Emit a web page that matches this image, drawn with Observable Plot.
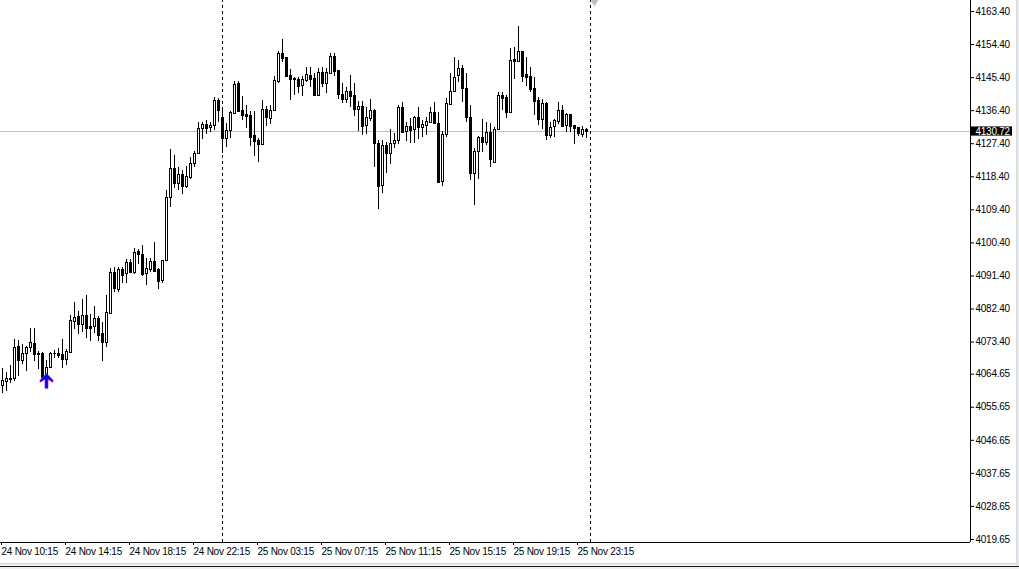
<!DOCTYPE html>
<html><head><meta charset="utf-8">
<script src="https://cdn.jsdelivr.net/npm/d3@7"></script>
<script src="https://cdn.jsdelivr.net/npm/@observablehq/plot@0.6"></script>
<style>
html,body{margin:0;padding:0;background:#fff;overflow:hidden}
#chart svg{display:block}
#chart{position:relative}
#foot{height:2px;background:#f0f0f0;border-top:1px solid #d4d4d4;border-bottom:1px solid #202020}
#foot2{height:2px;background:#f0f0f0}
#side{position:absolute;right:0;top:0;width:2px;height:566px;background:#e4e8ee;border-left:1px solid #d8d8d8}
</style></head><body><div id="chart"></div><div id="foot"></div><div id="foot2"></div><div id="side"></div>
<script>
const highs=[4066.2,4065.1,4067.0,4074.1,4073.8,4072.7,4072.2,4077.1,4077.1,4070.8,4070.6,4068.4,4070.6,4071.1,4071.6,4074.1,4071.4,4080.6,4084.2,4081.7,4085.0,4086.1,4080.9,4083.1,4080.4,4078.7,4086.1,4093.4,4093.7,4093.7,4093.7,4095.9,4095.9,4098.9,4098.6,4099.7,4096.1,4096.1,4100.5,4093.4,4095.6,4114.7,4125.8,4124.2,4120.9,4120.1,4121.2,4123.6,4125.3,4133.2,4133.2,4133.7,4133.2,4140.0,4139.7,4137.3,4132.9,4136.2,4144.3,4144.3,4140.3,4137.8,4136.2,4136.2,4128.8,4139.2,4137.5,4137.8,4145.7,4152.5,4155.8,4150.9,4147.6,4145.4,4145.4,4145.7,4148.1,4148.1,4146.5,4147.9,4148.1,4147.9,4152.0,4152.0,4147.3,4143.8,4142.7,4146.0,4143.8,4138.9,4138.9,4137.3,4139.4,4136.7,4128.3,4128.3,4127.7,4131.3,4130.2,4137.8,4138.6,4133.2,4134.3,4134.8,4137.3,4133.7,4134.5,4137.3,4138.6,4135.9,4130.7,4139.7,4146.5,4150.9,4150.1,4148.7,4146.5,4137.8,4126.1,4129.4,4134.0,4133.2,4132.9,4131.8,4141.3,4141.3,4140.5,4153.3,4153.6,4159.3,4152.5,4150.9,4148.1,4145.4,4140.0,4139.4,4138.6,4133.2,4134.0,4138.6,4137.8,4135.6,4135.4,4132.4,4131.8,4132.1,4131.5];
const lows=[4059.4,4059.9,4062.1,4062.7,4064.0,4067.3,4065.4,4070.6,4068.1,4065.9,4063.7,4063.7,4066.2,4068.9,4068.9,4066.2,4067.0,4070.3,4076.8,4075.5,4076.0,4074.4,4073.6,4075.7,4073.6,4068.1,4071.9,4081.2,4086.9,4086.9,4089.3,4089.3,4092.1,4091.8,4094.5,4091.2,4088.8,4092.3,4092.3,4087.7,4089.3,4095.6,4110.0,4115.2,4114.7,4113.6,4115.2,4117.7,4120.9,4124.7,4128.5,4129.9,4130.5,4131.0,4133.2,4124.7,4126.4,4128.8,4135.6,4135.9,4133.7,4131.5,4126.6,4123.9,4122.3,4126.9,4132.1,4132.6,4136.2,4143.8,4149.5,4145.4,4139.2,4140.5,4141.1,4140.3,4144.1,4142.7,4140.5,4140.5,4142.7,4141.1,4146.5,4145.7,4139.4,4138.4,4138.4,4137.3,4134.8,4130.7,4129.6,4129.9,4133.4,4120.9,4109.5,4113.9,4119.3,4121.7,4126.1,4127.2,4130.2,4128.0,4127.5,4127.5,4128.5,4129.1,4129.6,4132.9,4132.6,4116.8,4115.8,4129.1,4137.8,4141.6,4144.1,4138.6,4133.2,4117.4,4110.6,4117.7,4125.0,4126.9,4120.9,4122.0,4131.0,4136.4,4134.3,4135.9,4144.9,4149.5,4144.1,4143.0,4141.3,4135.1,4132.4,4131.3,4128.3,4128.8,4129.1,4132.6,4131.8,4130.5,4130.5,4127.2,4129.4,4129.1,4128.8];
const opens=[4061.6,4062.7,4063.2,4063.5,4072.2,4068.4,4070.3,4071.9,4073.0,4070.3,4070.3,4063.7,4066.5,4070.3,4070.3,4070.0,4068.6,4070.6,4079.0,4080.4,4078.2,4080.6,4077.6,4077.6,4079.8,4075.7,4073.3,4081.2,4092.3,4087.7,4093.2,4092.1,4095.1,4092.3,4098.1,4097.2,4092.1,4093.2,4095.3,4093.2,4090.2,4095.6,4112.8,4120.7,4116.6,4119.0,4115.8,4118.2,4122.0,4124.7,4131.5,4132.6,4131.8,4132.4,4139.2,4134.5,4128.8,4131.0,4135.6,4143.8,4136.4,4135.4,4135.1,4129.6,4128.3,4127.2,4136.7,4134.3,4136.4,4144.3,4152.0,4150.9,4146.0,4145.2,4144.9,4143.3,4144.6,4146.0,4145.2,4140.5,4146.8,4143.8,4146.5,4151.1,4147.3,4140.8,4139.4,4141.6,4140.5,4136.7,4137.5,4132.4,4134.3,4136.4,4127.5,4116.0,4126.9,4124.7,4127.5,4128.3,4137.3,4130.7,4132.1,4131.3,4134.5,4131.8,4132.4,4133.2,4135.9,4132.9,4117.1,4129.9,4138.1,4141.6,4146.0,4147.9,4142.4,4134.5,4119.3,4125.3,4129.1,4127.7,4130.5,4122.3,4131.3,4140.5,4140.0,4135.9,4150.3,4149.8,4152.5,4146.2,4145.7,4142.4,4139.2,4134.0,4138.4,4129.6,4132.1,4133.4,4136.4,4132.4,4135.4,4132.4,4131.8,4129.9,4131.3];
const closes=[4062.9,4063.5,4063.5,4071.9,4068.4,4070.3,4071.9,4073.3,4070.0,4070.0,4063.7,4066.5,4070.3,4070.2,4069.7,4068.6,4070.8,4079.3,4080.1,4078.2,4080.6,4077.1,4077.1,4079.8,4075.2,4073.3,4081.5,4092.3,4088.0,4093.2,4091.5,4095.1,4092.3,4097.8,4097.2,4091.8,4093.4,4095.3,4092.6,4089.9,4095.6,4112.8,4120.7,4116.6,4119.0,4115.8,4118.5,4122.0,4124.7,4131.5,4132.6,4131.5,4132.4,4139.2,4136.4,4128.8,4131.0,4135.9,4143.5,4136.2,4135.1,4134.8,4129.1,4128.0,4127.2,4136.7,4134.5,4136.4,4144.6,4152.0,4150.6,4145.7,4144.9,4144.9,4143.0,4144.9,4146.3,4144.9,4140.5,4146.8,4143.8,4146.8,4151.1,4147.1,4140.8,4139.4,4141.6,4140.3,4136.7,4137.5,4132.1,4134.5,4136.4,4127.5,4115.8,4126.9,4124.7,4127.5,4128.3,4137.3,4130.5,4132.1,4131.0,4134.5,4131.8,4132.6,4133.4,4135.9,4132.9,4116.8,4129.9,4138.4,4141.6,4145.4,4147.9,4142.4,4134.5,4119.3,4125.3,4129.1,4127.7,4130.5,4123.1,4131.3,4140.5,4139.7,4135.9,4150.1,4149.8,4152.5,4145.7,4145.4,4142.2,4138.9,4134.0,4138.4,4129.6,4131.8,4133.7,4136.4,4132.1,4135.4,4132.1,4131.5,4130.2,4131.3,4130.7];
const priceTicks=[4163.40,4154.40,4145.40,4136.40,4127.40,4118.40,4109.40,4100.40,4091.40,4082.40,4073.40,4064.65,4055.65,4046.65,4037.65,4028.65,4019.65];
const timeTicks=[0,16,32,48,64,80,96,112,128,144];
const timeLabels=["24 Nov 10:15","24 Nov 14:15","24 Nov 18:15","24 Nov 22:15","25 Nov 03:15","25 Nov 07:15","25 Nov 11:15","25 Nov 15:15","25 Nov 19:15","25 Nov 23:15"];
const periodSeparators=[55,147];
const lastPrice=4130.72;
const arrowBar=[11];
const arrowPrice=[4062.7];
const n=Math.min(highs.length,lows.length,opens.length,closes.length);
const bars=d3.range(n).map(i=>({i,h:highs[i],l:lows[i],o:opens[i],c:closes[i]}));
const F='"Liberation Sans",sans-serif';
const isUp=d=>d.c>=d.o;
const xEnd=242, yLo=4018.83, yHi=4166.39;
const arrowSymbol={draw(c){c.moveTo(0,-8);c.lineTo(6.5,-1);c.lineTo(6.5,1);c.lineTo(1.5,-2);c.lineTo(1.5,7);c.lineTo(-1.5,7);c.lineTo(-1.5,-2);c.lineTo(-6.5,1);c.lineTo(-6.5,-1);c.closePath();}};
const plot=Plot.plot({
  width:1019,height:563,marginLeft:0,marginRight:49,marginTop:0,marginBottom:21,
  style:{background:"#fff",fontFamily:F,fontSize:"10px",letterSpacing:"-0.25px",color:"#000",overflow:"hidden"},
  x:{type:"linear",domain:[-0.5,xEnd],range:[0,970],axis:null},
  y:{type:"linear",domain:[yLo,yHi],range:[542,0],axis:null},
  marks:[
    Plot.ruleY([lastPrice],{stroke:"#c0c0c0",strokeWidth:1,shapeRendering:"crispEdges"}),
    Plot.ruleX(periodSeparators,{stroke:"#000",strokeWidth:1,strokeDasharray:"3,3",y1:yLo,y2:yHi,shapeRendering:"crispEdges"}),
    Plot.ruleX(bars,{x:"i",y1:"l",y2:"h",stroke:"#000",strokeWidth:1,shapeRendering:"crispEdges"}),
    Plot.rect(bars,{x1:d=>d.i-0.25,x2:d=>d.i+0.25,y1:d=>Math.min(d.o,d.c),y2:d=>Math.max(d.o,d.c),fill:d=>isUp(d)?"#fff":"#000",stroke:"#000",strokeWidth:1,dx:0.5,dy:0.5,shapeRendering:"crispEdges"}),
    Plot.dot(arrowBar.map((b,k)=>({b,p:arrowPrice[k]})),{x:"b",y:"p",symbol:arrowSymbol,fill:"#0000e0",stroke:"#c020c0",strokeWidth:0.7}),
    Plot.dot([148],{x:d=>d,y:[yHi],symbol:"triangle",rotate:180,r:4,fill:"#c0c0c0"}),
    Plot.ruleX([xEnd],{y1:yLo,y2:yHi,stroke:"#000",shapeRendering:"crispEdges"}),
    Plot.ruleY([yLo],{x1:-0.5,x2:xEnd,stroke:"#000",shapeRendering:"crispEdges"}),
    Plot.axisY(priceTicks,{anchor:"right",x:xEnd,tickSize:3,tickPadding:2,tickFormat:d=>d.toFixed(2),textAnchor:"start",fill:"#000",fontSize:10,label:null}),
    Plot.axisX(timeTicks,{anchor:"bottom",y:yLo,tickSize:3,tickPadding:2,tickFormat:d=>timeLabels[timeTicks.indexOf(d)],textAnchor:"start",dx:-1,fill:"#000",fontSize:10,label:null}),
    Plot.rect([lastPrice],{x1:xEnd+0.25,x2:xEnd+10.5,y1:d=>d-1.25,y2:d=>d+1.25,fill:"#000"}),
    Plot.text([lastPrice],{x:()=>xEnd,y:d=>d,dx:5,text:d=>d.toFixed(2),textAnchor:"start",fill:"#fff",fontSize:10})
  ]
});
document.getElementById("chart").append(plot);
</script></body></html>
